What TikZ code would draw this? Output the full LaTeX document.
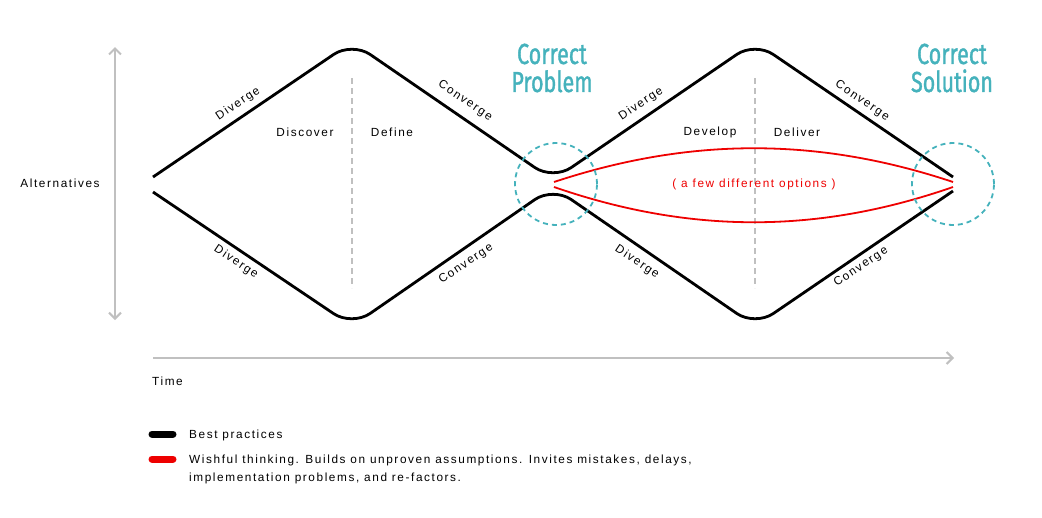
\documentclass[tikz,border=0pt]{standalone}
\usepackage{fontspec}
\setmainfont[LetterSpace=13.5]{Liberation Sans}
\newfontfamily\condfont[FakeStretch=0.74,FakeBold=1.2]{Fira Sans}
\usetikzlibrary{arrows.meta}
\definecolor{tealc}{RGB}{69,178,188}
\definecolor{axisgray}{RGB}{192,192,192}
\definecolor{redline}{RGB}{238,0,0}
\begin{document}
\begin{tikzpicture}[x=1pt,y=-1pt,
  lbl/.style={font=\fontsize{11.8}{13}\selectfont, inner sep=0pt},
  title/.style={font=\condfont\fontsize{29}{29}\selectfont, text=tealc, align=center, inner sep=0pt},
  mainline/.style={line width=2.8pt, rounded corners=22pt, line join=round},
  wish/.style={line width=1.8pt, draw=redline},
  target/.style={draw=tealc, line width=1.8pt, dash pattern=on 5pt off 4pt},
  divider/.style={draw=axisgray, line width=1.6pt, dash pattern=on 6pt off 4pt},
  axis/.style={draw=axisgray, line width=2pt, -{Straight Barb[length=6pt,width=12pt]}},
  legendbar/.style={line width=7pt, line cap=round}]
\useasboundingbox (0,0) rectangle (1042,517);

% coordinates
\coordinate (us) at (153,177);
\coordinate (ut1) at (352,42);
\coordinate (uv) at (553,180);
\coordinate (ut2) at (755,42);
\coordinate (ue) at (953,177);
\coordinate (ls) at (153,192);
\coordinate (lb1) at (352,326);
\coordinate (lv) at (553,187);
\coordinate (lb2) at (755,326);
\coordinate (le) at (953,191);

% dashed dividers
\coordinate (d1t) at (352,78); \coordinate (d1b) at (352,288);
\coordinate (d2t) at (755,78); \coordinate (d2b) at (755,288);
\draw[divider] (d1t) -- (d1b);
\draw[divider] (d2t) -- (d2b);

% main lines
\draw[mainline] (us) -- (ut1) -- (uv) -- (ut2) -- (ue);
\draw[mainline] (ls) -- (lb1) -- (lv) -- (lb2) -- (le);

% red wishful curves
\coordinate (r1a) at (554,182); \coordinate (r1b) at (953,182);
\coordinate (r2a) at (554,187); \coordinate (r2b) at (953,187);
\draw[wish] (r1a) .. controls (690,137) and (818,137) .. (r1b);
\draw[wish] (r2a) .. controls (690,234) and (818,234) .. (r2b);

% target circles
\node[target, circle, minimum size=82pt, inner sep=0pt] (cp) at (556,184) {};
\node[target, circle, minimum size=82pt, inner sep=0pt] (cs) at (953,184) {};

% titles
\node[title] (tp) at (552,68) {Correct\\[-1pt]Problem};
\node[title] (ts) at (952,68) {Correct\\[-1pt]Solution};

% axes
\coordinate (vt) at (115,47); \coordinate (vb) at (115,320);
\draw[axis, {Straight Barb[length=6pt,width=12pt]}-{Straight Barb[length=6pt,width=12pt]}] (vt) -- (vb);
\coordinate (hs) at (153,358); \coordinate (he) at (954,358);
\draw[axis] (hs) -- (he);
\node[lbl] (alt) at (60,183) {Alternatives};
\node[lbl, anchor=base west] (time) at (152,385) {Time};

% phase labels
\node[lbl] (disc) at (305,132) {Discover};
\node[lbl] (defi) at (392,132) {Define};
\node[lbl] (deve) at (710,132) {Develop};
\node[lbl] (deli) at (797,132) {Deliver};

% slope labels
\node[lbl, rotate=34] (dv1) at (238,104) {Diverge};
\node[lbl, rotate=-34] (cv1) at (465,101) {Converge};
\node[lbl, rotate=34] (dv2) at (641,104) {Diverge};
\node[lbl, rotate=-34] (cv2) at (862,101) {Converge};
\node[lbl, rotate=-34] (dv3) at (236,262) {Diverge};
\node[lbl, rotate=34] (cv3) at (466,264) {Converge};
\node[lbl, rotate=-34] (dv4) at (637,262) {Diverge};
\node[lbl, rotate=34] (cv4) at (861,267) {Converge};

\node[lbl, text=redline] (opt) at (754,184) {( a few different options )};

% legend
\coordinate (lg1a) at (152,434); \coordinate (lg1b) at (173,434);
\coordinate (lg2a) at (152,459); \coordinate (lg2b) at (173,459);
\draw[legendbar, black] (lg1a) -- (lg1b);
\draw[legendbar, redline] (lg2a) -- (lg2b);
\node[lbl, anchor=base west] (best) at (189,438.5) {Best practices};
\node[lbl, anchor=base west] (wt1) at (189,463.5) {Wishful thinking. Builds on unproven assumptions. Invites mistakes, delays,};
\node[lbl, anchor=base west] (wt2) at (189,481.5) {implementation problems, and re-factors.};
\end{tikzpicture}
\end{document}
